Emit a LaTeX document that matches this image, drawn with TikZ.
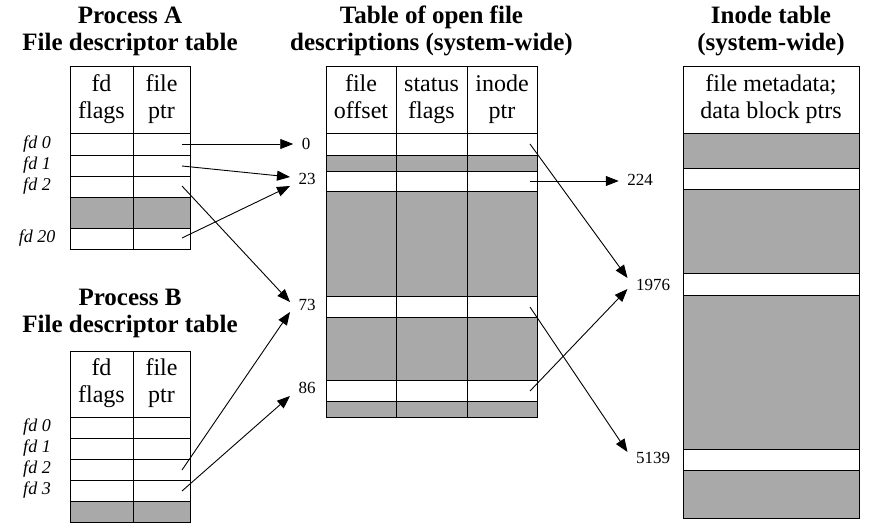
\documentclass[tikz,border=0pt]{standalone}
\usepackage{fontspec}
\setmainfont{Liberation Serif}
\usetikzlibrary{arrows.meta}
\definecolor{slotgray}{HTML}{A9A9A9}

\begin{document}
\begin{tikzpicture}[x=1pt, y=-1pt, line width=1pt,
  title/.style = {font=\fontsize{25}{27}\selectfont\bfseries, align=center, inner sep=0pt},
  head/.style = {font=\fontsize{24}{27}\selectfont, align=center, inner sep=0pt},
  fdlbl/.style = {font=\fontsize{18}{18}\selectfont\itshape, inner sep=0pt},
  num/.style = {font=\fontsize{17}{17}\selectfont, inner xsep=8pt, inner ysep=0pt},
  ptr/.style = {-{Triangle[length=13pt,width=10pt]}, line width=0.9pt}]
\useasboundingbox (0,0) rectangle (883,527);

% process A
\node[title] (ta) at (130,31) {Process A\\File descriptor table};
\foreach \ya/\yb/\fc in {67/133/white, 133/155/white, 155/176/white, 176/197/white, 197/228/slotgray, 228/249/white}
  \filldraw[fill=\fc] (70,\ya) rectangle (190,\yb);
\draw (133,67) -- (133,249);
\node[head] (afl) at (101.5,100) {\strut fd\\\strut flags};
\node[head] (apt) at (161.5,100) {\strut file\\\strut ptr};
\node[fdlbl] (la0) at (37,144) {fd 0};
\node[fdlbl] (la1) at (37,165.5) {fd 1};
\node[fdlbl] (la2) at (37,186.5) {fd 2};
\node[fdlbl] (la20) at (37,238.5) {fd 20};
\coordinate (pa0) at (182,144);
\coordinate (pa1) at (182,166);
\coordinate (pa2) at (182,186);
\coordinate (pa20) at (182,238);

% process B
\node[title] (tb) at (130,313) {Process B\\File descriptor table};
\foreach \ya/\yb/\fc in {351/417/white, 417/438/white, 438/459/white, 459/480/white, 480/501/white, 501/522/slotgray}
  \filldraw[fill=\fc] (70,\ya) rectangle (190,\yb);
\draw (133,351) -- (133,522);
\node[head] (bfl) at (101.5,384) {\strut fd\\\strut flags};
\node[head] (bpt) at (161.5,384) {\strut file\\\strut ptr};
\node[fdlbl] (lb0) at (37,427.5) {fd 0};
\node[fdlbl] (lb1) at (37,448.5) {fd 1};
\node[fdlbl] (lb2) at (37,469.5) {fd 2};
\node[fdlbl] (lb3) at (37,490.5) {fd 3};
\coordinate (pb2) at (182,470);
\coordinate (pb3) at (182,491);

% open file descriptions
\node[title] (tf) at (431.5,31) {Table of open file\\descriptions (system-wide)};
\foreach \ya/\yb/\fc in {67/133/white, 133/155/white, 155/171/slotgray, 171/191/white, 191/296/slotgray, 296/317/white, 317/380/slotgray, 380/401/white, 401/417/slotgray}
  \filldraw[fill=\fc] (326,\ya) rectangle (537,\yb);
\draw (396,67) -- (396,417);
\draw (467,67) -- (467,417);
\node[head] (fof) at (361,100) {\strut file\\\strut offset};
\node[head] (fst) at (431.5,100) {\strut status\\\strut flags};
\node[head] (fin) at (502,100) {\strut inode\\\strut ptr};
\node[num] (o0) at (306,144) {0};
\node[num] (o23) at (307,179) {23};
\node[num] (o73) at (307,305) {73};
\node[num] (o86) at (307,388) {86};
\coordinate (f0) at (530,144);
\coordinate (f23) at (530,181);
\coordinate (f73) at (530,307);
\coordinate (f86) at (530,391);

% inode table
\node[title] (ti) at (771,31) {Inode table\\(system-wide)};
\foreach \ya/\yb/\fc in {67/133/white, 133/168/slotgray, 168/189/white, 189/273/slotgray, 273/295/white, 295/449/slotgray, 449/470/white, 470/518/slotgray}
  \filldraw[fill=\fc] (683,\ya) rectangle (859,\yb);
\node[head] (imd) at (771,100) {\strut file metadata;\\\strut data block ptrs};
\node[num] (i224) at (640,180) {224};
\node[num] (i1976) at (653,285) {1976};
\node[num] (i5139) at (653,458) {5139};

% pointers
\draw[ptr] (pa0) -- (o0.west);
\draw[ptr] (pa1) -- ([yshift=2pt]o23.west);
\draw[ptr] (pa2) -- ([yshift=3pt]o73.west);
\draw[ptr] (pa20) -- ([yshift=-7pt]o23.west);
\draw[ptr] (pb2) -- ([yshift=-7pt]o73.west);
\draw[ptr] (pb3) -- ([yshift=-8pt]o86.west);
\draw[ptr] (f0) -- ([yshift=7pt]i1976.west);
\draw[ptr] (f23) -- ([yshift=-1pt]i224.west);
\draw[ptr] (f73) -- ([yshift=6pt]i5139.west);
\draw[ptr] (f86) -- ([yshift=-4pt]i1976.west);
\end{tikzpicture}
\end{document}
